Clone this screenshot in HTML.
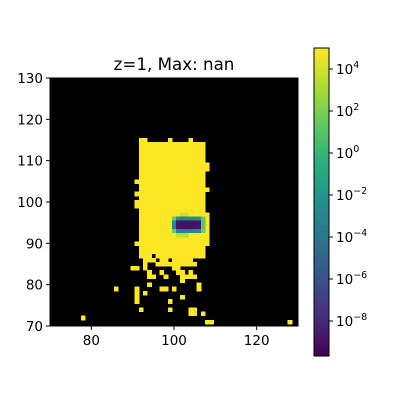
<!DOCTYPE html>
<html><head><meta charset="utf-8"><style>
html,body{margin:0;padding:0;background:#fff;width:400px;height:400px;overflow:hidden}
svg{display:block;font-family:"DejaVu Sans","Liberation Sans",sans-serif}
</style></head><body>
<svg id="c" width="400" height="400" xmlns="http://www.w3.org/2000/svg">
<defs>
<linearGradient id="vir" x1="0" y1="1" x2="0" y2="0">
<stop offset="0" stop-color="#440154"/><stop offset="0.125" stop-color="#472d7b"/>
<stop offset="0.25" stop-color="#3b528b"/><stop offset="0.375" stop-color="#2c728e"/>
<stop offset="0.5" stop-color="#21918c"/><stop offset="0.625" stop-color="#28ae80"/>
<stop offset="0.75" stop-color="#5ec962"/><stop offset="0.875" stop-color="#addc30"/>
<stop offset="1" stop-color="#fde725"/></linearGradient>
</defs>
<text x="174" y="70" text-anchor="middle" font-size="16.7">z=1, Max: nan</text>
<rect x="50" y="78" width="248" height="248" fill="#000"/>
<g id="cells" shape-rendering="crispEdges"></g>
<rect x="50" y="78" width="248" height="248" fill="none" stroke="#000"/>
<g id="axes" font-size="13.5"></g>
<rect x="314" y="48" width="15" height="308" fill="url(#vir)" stroke="#000"/>
<g id="cbar" font-size="13.5"></g>
</svg>
<script>
const xTicks=[80,100,120];
const yTicks=[70,80,90,100,110,120,130];
const cbarExps=[4,2,0,-2,-4,-6,-8];
// yellow runs: [row, colStart, colEnd]
const yellowRuns=[
[115,92,93],[115,99,99],[115,104,104],
[114,92,107],[113,92,107],[112,92,107],[111,92,107],[110,92,107],
[109,92,108],[108,92,108],[107,92,107],[106,92,107],[105,91,107],[104,92,107],
[103,92,108],[102,91,107],[101,92,107],[100,91,107],[99,91,107],[98,92,107],
[97,92,107],[96,92,99],[95,92,99],[94,92,99],[93,92,99],[92,92,100],[92,104,108],
[97,108,108],[96,108,108],[95,108,108],[94,108,108],[93,108,108],
[91,92,108],[90,91,108],[89,92,107],[88,92,107],[87,92,94],[87,96,107],
[86,93,95],[86,97,98],[86,100,104],
[85,93,93],[85,96,104],[85,105,105],
[84,90,91],[84,93,93],[84,100,101],
[83,94,94],[83,97,97],[83,101,102],[83,104,104],
[82,94,95],[82,98,98],[82,102,105],
[81,102,102],[80,94,94],[80,106,106],
[79,86,86],[79,91,91],[79,97,98],[79,100,100],[79,106,106],
[78,91,91],[78,93,93],[77,91,91],[77,102,102],[76,91,91],[76,99,99],
[74,92,92],[74,99,99],[74,104,105],[73,104,105],[73,107,107],
[72,78,78],[71,108,109],[71,128,128]];
const yellowLog=5;
// hotspot cells: [row, col, log10 value]
const hotRows=[97,96,95,94,93,92];
const hotCols=[100,101,102,103,104,105,106,107];
const hotLog=[
[5,5,3.8,3.8,5,5,5,5],
[1.5,-2.5,-2.8,-2.8,-2.8,-2.6,-2.2,1.5],
[-2.5,-8.8,-9,-9,-9,-9,-8.8,1.2],
[-2.5,-8.8,-9,-9,-9,-9,-8.8,1.2],
[1.5,-3,-3.2,-3.2,-3.2,-3,-2.5,2],
[5,3.5,3.5,3.5,5,5,5,5]];
const X=v=>50+(v-70)*248/60, Y=v=>78+(130-v)*248/60, CW=248/60;
const vstops=["#440154","#472d7b","#3b528b","#2c728e","#21918c","#28ae80","#5ec962","#addc30","#fde725"];
function hx(h){return [1,3,5].map(i=>parseInt(h.substr(i,2),16));}
function vir(t){t=Math.max(0,Math.min(1,t));const p=t*8,i=Math.min(7,Math.floor(p)),f=p-i;const a=hx(vstops[i]),b=hx(vstops[i+1]);return 'rgb('+a.map((v,k)=>Math.round(v+(b[k]-v)*f)).join(',')+')';}
const LMIN=-9.67,LMAX=5.0;
const col=l=>vir((l-LMIN)/(LMAX-LMIN));
const NS='http://www.w3.org/2000/svg';
const g=document.getElementById('cells');
function cell(r,c,l){const e=document.createElementNS(NS,'rect');
e.setAttribute('x',X(c-0.5));e.setAttribute('y',Y(r+0.5));e.setAttribute('width',CW+0.5);e.setAttribute('height',CW+0.5);e.setAttribute('fill',col(l));


g.appendChild(e);}
yellowRuns.forEach(([r,a,b])=>{for(let c=a;c<=b;c++)cell(r,c,yellowLog);});
hotRows.forEach((r,i)=>hotCols.forEach((c,j)=>cell(r,c,hotLog[i][j])));
const ax=document.getElementById('axes');
function add(par,tag,attrs,txt){const e=document.createElementNS(NS,tag);for(const k in attrs)e.setAttribute(k,attrs[k]);if(txt!==undefined)e.textContent=txt;par.appendChild(e);return e;}
xTicks.forEach(v=>{const t=add(ax,'line',{x1:X(v),x2:X(v),y1:326,y2:330,stroke:'#000'});


const l=add(ax,'text',{x:X(v),y:345,'text-anchor':'middle'},v);

});
yTicks.forEach(v=>{const t=add(ax,'line',{x1:46,x2:50,y1:Y(v),y2:Y(v),stroke:'#000'});


const l=add(ax,'text',{x:43,y:Y(v)+5,'text-anchor':'end'},v);

});
const cb=document.getElementById('cbar');
const CY=e=>69+(4-e)*21;
cbarExps.forEach(e=>{const t=add(cb,'line',{x1:329,x2:333,y1:CY(e),y2:CY(e),stroke:'#000'});


const l=add(cb,'text',{x:336,y:CY(e)+5},'10');


add(l,'tspan',{dy:-6,'font-size':9.5},e<0?'\u2212'+(-e):String(e));});
</script>
</body></html>
